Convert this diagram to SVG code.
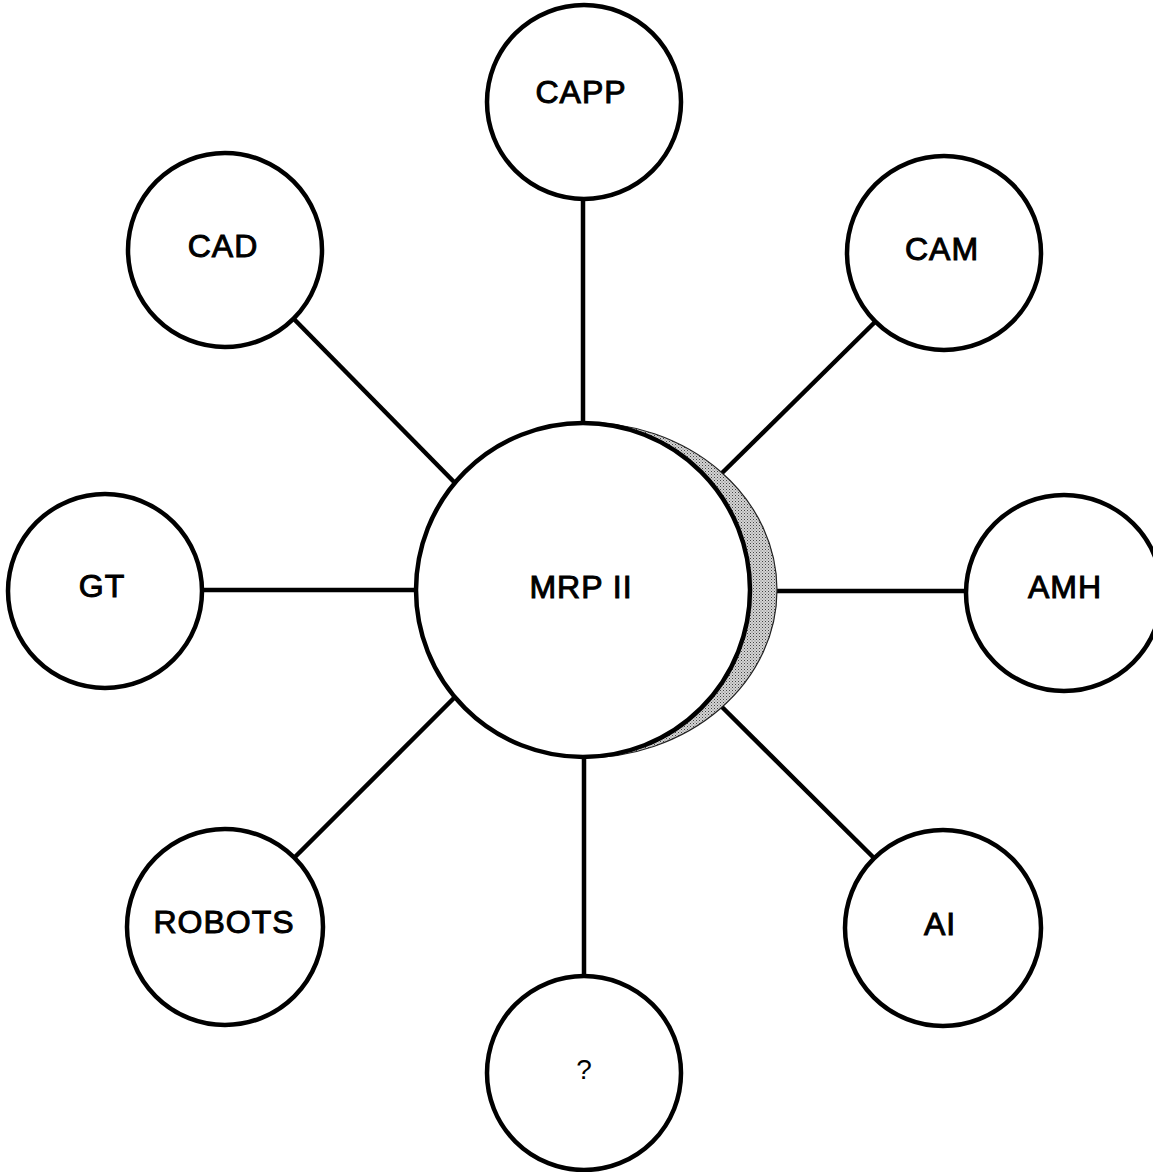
<svg xmlns="http://www.w3.org/2000/svg" width="1153" height="1172" viewBox="0 0 1153 1172">
  <defs>
    <!-- stippled fill for the hub's drop shadow -->
    <pattern id="stipple" width="3" height="3" patternUnits="userSpaceOnUse">
      <rect width="3" height="3" fill="#d4d4d4"/>
      <rect x="0" y="0" width="1" height="1" fill="#444"/>
      <rect x="1.5" y="1.5" width="1" height="1" fill="#777"/>
    </pattern>
  </defs>
  <style>
    .link { stroke: #000; stroke-width: 4.5; fill: none; stroke-linecap: butt; }
    .node { fill: #fff; stroke: #000; stroke-width: 4.5; }
    .label { font-family: "Liberation Sans", Arial, sans-serif; font-size: 32px; fill: #000; stroke: #000; stroke-width: 1; text-anchor: middle; letter-spacing: 1px; }
    .small { font-family: "Liberation Sans", Arial, sans-serif; font-size: 28px; fill: #000; text-anchor: middle; }
  </style>
  <rect width="1153" height="1172" fill="#fff"/>

  <!-- spokes from the hub to each satellite -->
  <g id="connectors">
    <line class="link" x1="583" y1="200" x2="583" y2="430"/>
    <line class="link" x1="290" y1="315" x2="458" y2="486"/>
    <line class="link" x1="876" y1="321" x2="720" y2="475"/>
    <line class="link" x1="200" y1="590" x2="420" y2="590"/>
    <line class="link" x1="770" y1="591" x2="968" y2="591"/>
    <line class="link" x1="292" y1="860" x2="458" y2="694"/>
    <line class="link" x1="876" y1="860" x2="722" y2="707"/>
    <line class="link" x1="584" y1="750" x2="584" y2="978"/>
  </g>

  <g id="node-mrp2">
    <!-- half-ellipse shadow, mostly covered by the hub circle -->
    <path d="M 583 422 A 194 168 0 0 1 583 758 Z" fill="url(#stipple)" stroke="#222" stroke-width="1.2"/>
    <circle class="node" cx="583" cy="590" r="167"/>
    <text class="label" x="581" y="598">MRP II</text>
  </g>

  <g id="node-capp">
    <circle class="node" cx="584" cy="102" r="97"/>
    <text class="label" x="581" y="103">CAPP</text>
  </g>

  <g id="node-cad">
    <circle class="node" cx="225" cy="250" r="97"/>
    <text class="label" x="223" y="257">CAD</text>
  </g>

  <g id="node-cam">
    <circle class="node" cx="944" cy="253" r="97"/>
    <text class="label" x="942" y="260">CAM</text>
  </g>

  <g id="node-gt">
    <circle class="node" cx="105" cy="591" r="97"/>
    <text class="label" x="102" y="597">GT</text>
  </g>

  <g id="node-amh">
    <circle class="node" cx="1064" cy="593" r="98"/>
    <text class="label" x="1065" y="598">AMH</text>
  </g>

  <g id="node-robots">
    <circle class="node" cx="225" cy="927" r="98"/>
    <text class="label" x="224" y="933">ROBOTS</text>
  </g>

  <g id="node-ai">
    <circle class="node" cx="943" cy="928" r="98"/>
    <text class="label" x="940" y="935">AI</text>
  </g>

  <g id="node-unknown">
    <circle class="node" cx="584" cy="1073" r="97"/>
    <text class="small" x="584" y="1079">?</text>
  </g>
</svg>
